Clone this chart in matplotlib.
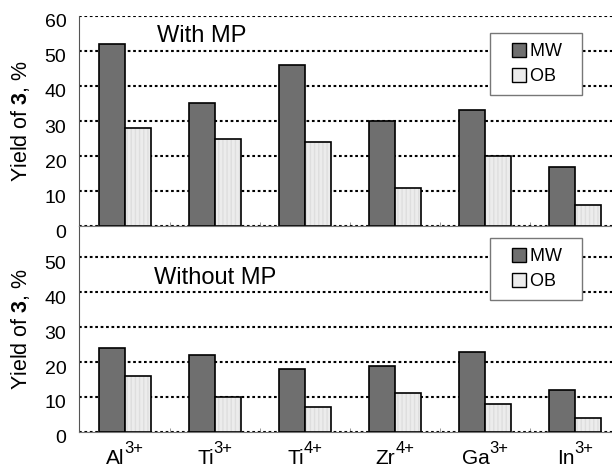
import numpy
import matplotlib
matplotlib.use("agg")
from matplotlib import pyplot
from matplotlib import transforms
from matplotlib.lines import Line2D

pyplot.rcParams["font.family"] = ["Liberation Sans", "DejaVu Sans"]
pyplot.rcParams["mathtext.fontset"] = "custom"
pyplot.rcParams["mathtext.rm"] = "Liberation Sans"
pyplot.rcParams["mathtext.bf"] = "Liberation Sans:bold"

metals = ["Al", "Ti", "Ti", "Zr", "Ga", "In"]
charges = ["3+", "3+", "4+", "4+", "3+", "3+"]
mw_with = [52, 35, 46, 30, 33, 17]
ob_with = [28, 25, 24, 11, 20, 6]
mw_without = [24, 22, 18, 19, 23, 12]
ob_without = [16, 10, 7, 11, 8, 4]

MW_COLOR = "#6f6f6f"
OB_COLOR = "#ececec"


def draw_panel(ax, mw, ob, title, ymax, yticks, title_xy, legend_y):
    x = numpy.arange(len(metals))
    w = 0.29
    ax.bar(x - w/2, mw, w, color=MW_COLOR, edgecolor="black", lw=1.2, zorder=3)
    # light bars with faint vertical hatching
    ax.bar(x + w/2, ob, w, color=OB_COLOR, edgecolor="#dedede", hatch="||||", lw=0, zorder=3)
    ax.bar(x + w/2, ob, w, facecolor="none", edgecolor="black", lw=1.2, zorder=4)

    ax.set_xlim(-0.51, 5.41)
    ax.set_ylim(0, ymax)
    ax.set_yticks(yticks)
    ax.set_xticks(x)
    ax.set_xticklabels([])
    ax.set_xticks(x[:-1] + 0.5, minor=True)
    ax.yaxis.grid(True, ls=(0, (1.3, 1.3)), color="black", lw=1.5, zorder=1)
    ax.tick_params(axis="y", labelsize=14, length=0, pad=9)
    ax.tick_params(axis="x", which="minor", length=3, color="#888888", direction="in")
    ax.tick_params(axis="x", which="major", length=0)
    offset = transforms.ScaledTranslation(0, -5/100., ax.figure.dpi_scale_trans)
    for lbl in ax.get_yticklabels():
        lbl.set_transform(lbl.get_transform() + offset)
    for side in ["top", "right"]:
        ax.spines[side].set_visible(False)
    ax.spines["left"].set_color("#555555")
    ax.spines["bottom"].set_color("#777777")
    ax.spines["bottom"].set_zorder(2.5)
    ax.text(title_xy[0], title_xy[1], title, fontsize=17, ha="center", va="center",
        transform=ax.transAxes)
    ax.set_ylabel(r"Yield of $\mathbf{3}$, %", fontsize=15.5)
    ax.yaxis.set_label_coords(-0.088, 0.5)

    handles = [
        Line2D([], [], ls="", marker="s", ms=10, mfc=MW_COLOR, mec="black", mew=1),
        Line2D([], [], ls="", marker="s", ms=10, mfc=OB_COLOR, mec="black", mew=1),
    ]
    leg = ax.legend(handles, ["MW  ", "OB  "], loc="upper right",
        bbox_to_anchor=(0.944, legend_y), fontsize=13, numpoints=1,
        frameon=True, fancybox=False, framealpha=1, handlelength=2.1,
        handletextpad=-0.45, borderpad=0.55, labelspacing=0.45, borderaxespad=0)
    leg.get_frame().set_edgecolor("#777777")
    leg.get_frame().set_linewidth(1.0)
    leg.set_zorder(5)


def draw_ion_labels(fig, ax):
    # element symbol with a large superscript charge, centred under each group
    trans = transforms.blended_transform_factory(ax.transData, ax.transAxes)
    fig.canvas.draw()
    renderer = fig.canvas.get_renderer()
    for i, (sym, chg) in enumerate(zip(metals, charges)):
        t1 = ax.annotate(sym, xy=(i, 0), xycoords=trans, xytext=(0, -23),
            textcoords="offset points", fontsize=15, ha="left", va="baseline")
        t2 = ax.annotate(chg, xy=(i, 0), xycoords=trans, xytext=(0, -15),
            textcoords="offset points", fontsize=12, ha="left", va="baseline")
        w1 = t1.get_window_extent(renderer).width * 72 / fig.dpi
        w2 = t2.get_window_extent(renderer).width * 72 / fig.dpi
        start = -(w1 + w2) / 2
        t1.set_position((start, -23))
        t2.set_position((start + w1, -15))


fig = pyplot.figure(figsize=(6.12, 4.69), dpi=100)
ax1 = fig.add_axes([0.129, 0.518, 0.871, 0.448])
ax2 = fig.add_axes([0.129, 0.079, 0.871, 0.439])

draw_panel(ax1, mw_with, ob_with, "With MP", 60, numpy.arange(0, 61, 10), (0.231, 0.905), 0.919)
draw_panel(ax2, mw_without, ob_without, "Without MP", 58.9, numpy.arange(0, 51, 10), (0.255, 0.748), 0.942)

ax2.spines["top"].set_visible(True)
ax2.spines["top"].set_color("#777777")
draw_ion_labels(fig, ax2)

pyplot.savefig("out.png", dpi=100)
